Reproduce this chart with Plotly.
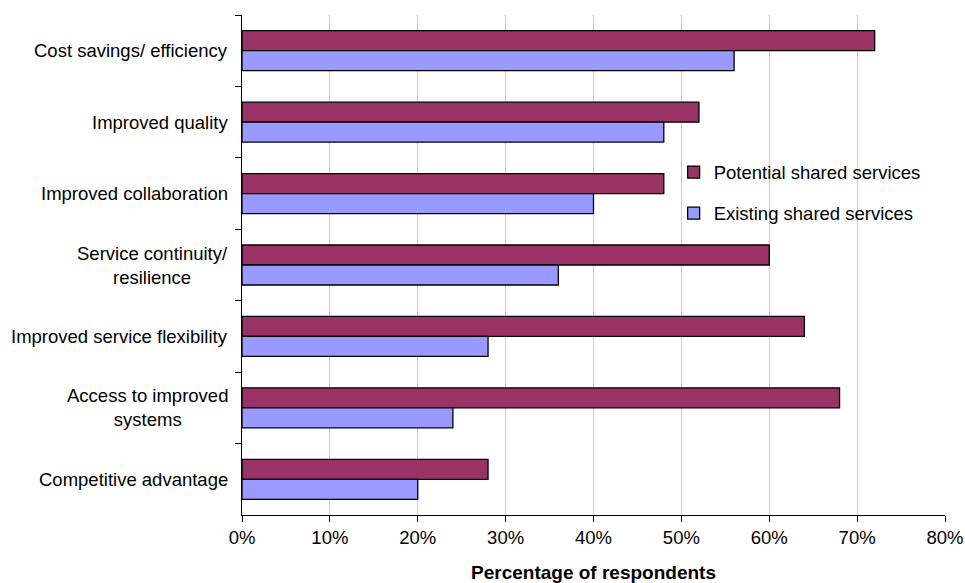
import plotly.graph_objects as go

categories = [
    "Cost savings/ efficiency",
    "Improved quality",
    "Improved collaboration",
    "Service continuity/<br>resilience",
    "Improved service flexibility",
    "Access to improved<br>systems",
    "Competitive advantage",
]
potential = [72, 52, 48, 60, 64, 68, 28]
existing = [56, 48, 40, 36, 28, 24, 20]
x_ticks = [0, 10, 20, 30, 40, 50, 60, 70, 80]
x_tick_text = [f"{v}%" for v in x_ticks]

FONT = "Liberation Sans, Arial, sans-serif"
FS = 18.5

fig = go.Figure()
fig.add_trace(go.Bar(
    y=categories, x=potential, orientation="h", name="Potential shared services",
    marker=dict(color="#993366", line=dict(color="#000000", width=1.3)),
    legendgroup="p",
))
fig.add_trace(go.Bar(
    y=categories, x=existing, orientation="h", name="Existing shared services",
    marker=dict(color="#9999FF", line=dict(color="#000000", width=1.3)),
    legendgroup="e",
))

# category labels drawn as centred multi-line text to the left of the axis
for c in categories:
    fig.add_annotation(
        x=0, xref="paper", y=c, yref="y", text=c, showarrow=False,
        xanchor="right", align="center", xshift=-12,
        font=dict(family=FONT, size=FS, color="#000000"),
    )

fig.update_layout(
    width=965, height=583,
    margin=dict(l=242, r=20, t=15, b=68, autoexpand=False),
    paper_bgcolor="white", plot_bgcolor="white",
    barmode="group", bargap=0.44, bargroupgap=0,
    font=dict(family=FONT, size=FS, color="#000000"),
    legend=dict(
        x=0.614, y=0.723, xanchor="left", yanchor="top",
        traceorder="grouped", tracegroupgap=14,
        font=dict(family=FONT, size=FS, color="#000000"),
        bgcolor="rgba(0,0,0,0)", itemwidth=30,
    ),
    showlegend=True,
)
fig.update_xaxes(
    range=[0, 80], tickvals=x_ticks, ticktext=x_tick_text,
    showgrid=True, gridcolor="#cccccc", gridwidth=1,
    showline=True, linecolor="#000000", linewidth=1.3,
    ticks="outside", ticklen=6, tickcolor="#000000",
    zeroline=False, automargin=False,
    title=dict(text="<b>Percentage of respondents</b>", standoff=20,
               font=dict(family=FONT, size=19)),
    tickfont=dict(family=FONT, size=FS),
)
fig.update_yaxes(
    autorange="reversed", showticklabels=False, automargin=False,
    showline=True, linecolor="#000000", linewidth=1.3,
    ticks="outside", ticklen=6, tickcolor="#000000", tickson="boundaries",
    showgrid=False,
)

fig.write_html("out.html")
